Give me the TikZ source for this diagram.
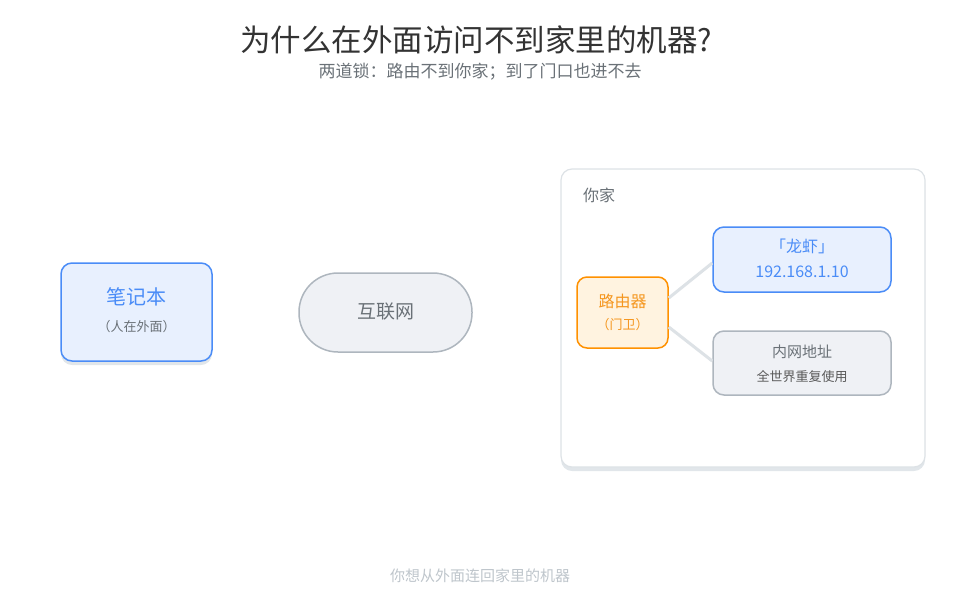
\documentclass[tikz,border=0pt]{standalone}
\usepackage{fontspec}
\setmainfont{Noto Sans CJK SC}
\usetikzlibrary{shadows}

\definecolor{bluefill}{HTML}{E8F0FE}
\definecolor{blueline}{HTML}{4A8CF7}
\definecolor{grayfill}{HTML}{EFF1F5}
\definecolor{grayline}{HTML}{AEB6BE}
\definecolor{graytext}{HTML}{6A7177}
\definecolor{orangefill}{HTML}{FFF3E0}
\definecolor{orangeline}{HTML}{FF9100}
\definecolor{orangetext}{HTML}{F5961E}
\definecolor{homeline}{HTML}{DDE2E6}
\definecolor{shadowgray}{HTML}{E1E6EA}

\newcommand{\fs}[1]{\fontsize{#1}{#1}\selectfont}

\begin{document}
\begin{tikzpicture}[
        x=1pt, y=-1pt,
        box/.style={draw, rounded corners=11pt, line width=1.5pt, inner sep=0pt},
        bluebox/.style={box, draw=blueline, fill=bluefill},
        graybox/.style={box, draw=grayline, fill=grayfill},
        softshadow/.style={drop shadow={shadow xshift=0pt, shadow yshift=-4pt, fill=shadowgray, opacity=1}},
        link/.style={draw=homeline, line width=3pt},
        txt/.style={inner sep=0pt, anchor=center}
    ]
        \useasboundingbox (0,0) rectangle (960,600);

        % Title
        \node[txt, text=black!80] (title) at (476,40) {\fs{30.5}为什么在外面访问不到家里的机器?};
        \node[txt, text=graytext] (subtitle) at (480,72) {\fs{17}两道锁：路由不到你家；到了门口也进不去};

        % Nodes
        \node[bluebox, softshadow, minimum width=151pt, minimum height=98pt] (laptop) at (136.5,312) {};
        \node[txt, text=blueline] at (136.5,297) {\fs{20}笔记本};
        \node[txt, text=graytext] at (136.5,327) {\fs{13}（人在外面）};

        \node[graybox, rounded corners=39pt, minimum width=173pt, minimum height=79pt] (internet) at (385.5,312.5) {};
        \node[txt, text=graytext] at (385.5,312) {\fs{19}互联网};

        % Home
        \node[box, softshadow, draw=homeline, fill=white, line width=1.2pt, minimum width=364pt, minimum height=298pt] (home) at (743,318) {};
        \node[txt, text=graytext, anchor=west] (homelabel) at (583,195) {\fs{16}你家};

        \node[box, draw=orangeline, fill=orangefill, rounded corners=10pt, minimum width=91pt, minimum height=71pt] (router) at (622.5,312.5) {};
        \node[txt, text=orangetext] at (622.5,301) {\fs{16}路由器};
        \node[txt, text=orangetext] at (622.5,325) {\fs{13}（门卫）};

        \node[bluebox, minimum width=178pt, minimum height=65pt] (lobster) at (802,259.5) {};
        \node[txt, text=blueline] at (802,246) {\fs{16}「龙虾」};
        \node[txt, text=blueline] at (802,272) {\fs{16}192.168.1.10};

        \node[graybox, minimum width=178pt, minimum height=64pt] (lan) at (802,363) {};
        \node[txt, text=graytext] at (802,352) {\fs{15}内网地址};
        \node[txt, text=black!65] at (802,377) {\fs{13}全世界重复使用};

        % Lines
        \path[link] ([yshift=14.5pt]router.east) -- ([yshift=-3.5pt]lobster.west);
        \path[link] ([yshift=-14.5pt]router.east) -- ([yshift=2pt]lan.west);

        % Footer
        \node[txt, text=grayline!80] (footer) at (480,576) {\fs{15}你想从外面连回家里的机器};
\end{tikzpicture}
\end{document}
